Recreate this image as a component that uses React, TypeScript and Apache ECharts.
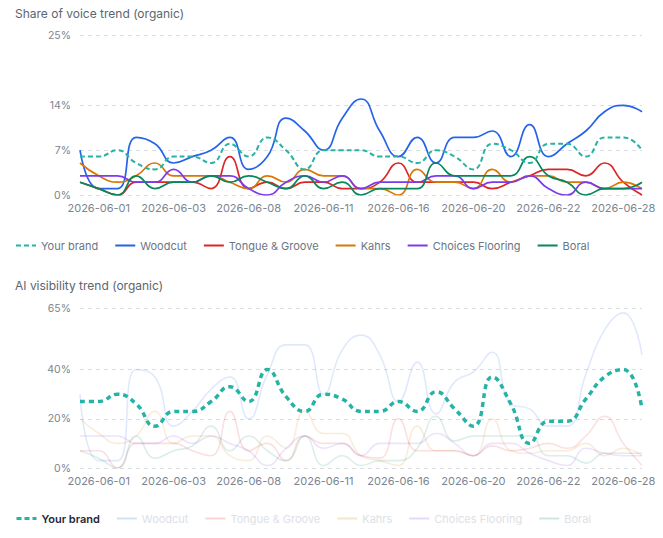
import React, { useEffect, useRef } from "react";
import * as echarts from "echarts";

// Collection runs (timestamps); the axis shows the date part only.
const runDates = [
  "2026-05-31 18:00", "2026-06-01 09:00", "2026-06-01 18:00", "2026-06-02 09:00",
  "2026-06-02 18:00", "2026-06-03 09:00", "2026-06-04 09:00", "2026-06-05 09:00",
  "2026-06-07 09:00", "2026-06-08 09:00", "2026-06-09 09:00", "2026-06-10 09:00",
  "2026-06-10 18:00", "2026-06-11 09:00", "2026-06-12 09:00", "2026-06-14 09:00",
  "2026-06-15 09:00", "2026-06-16 09:00", "2026-06-17 09:00", "2026-06-18 09:00",
  "2026-06-19 09:00", "2026-06-20 09:00", "2026-06-20 18:00", "2026-06-21 09:00",
  "2026-06-21 18:00", "2026-06-22 09:00", "2026-06-24 09:00", "2026-06-25 09:00",
  "2026-06-27 09:00", "2026-06-28 09:00", "2026-06-29 09:00",
];

const brandNames = ["Your brand", "Woodcut", "Tongue & Groove", "Kahrs", "Choices Flooring", "Boral"];
const brandColors = ["#26b3a6", "#2563eb", "#dc2626", "#d97706", "#7c3aed", "#07875a"];

// Share of voice (%)
const sovYourBrand = [6, 6, 7, 5, 4, 6, 6, 5, 8, 6, 9, 7, 4, 7, 7, 7, 6, 6, 5, 7, 6, 4, 8, 7, 5, 8, 8, 6, 9, 9, 7];
const sovWoodcut = [7, 1, 1, 9, 8, 5, 6, 7, 9, 4, 6, 12, 10, 7, 12, 15, 10, 6, 9, 5, 9, 9, 10, 6, 11, 6, 8, 10, 13, 14, 13];
const sovTongueGroove = [2, 1, 0, 2, 2, 2, 2, 1, 6, 1, 2, 1, 2, 2, 1, 1, 2, 5, 2, 2, 2, 2, 1, 2, 3, 4, 4, 3, 5, 2, 0];
const sovKahrs = [5, 3, 2, 3, 5, 3, 3, 3, 2, 1, 3, 2, 4, 3, 3, 1, 1, 0, 4, 2, 2, 1, 4, 2, 3, 3, 2, 2, 1, 2, 1];
const sovChoices = [3, 3, 3, 2, 2, 4, 2, 3, 3, 1, 0, 2, 3, 2, 3, 1, 2, 2, 2, 3, 3, 1, 2, 2, 3, 1, 0, 2, 1, 1, 1];
const sovBoral = [2, 1, 0, 3, 1, 2, 2, 3, 2, 3, 2, 1, 3, 1, 2, 0, 1, 1, 1, 5, 3, 3, 3, 3, 6, 3, 2, 0, 1, 1, 2];

// AI visibility (%)
const aiYourBrand = [27, 27, 30, 26, 17, 23, 23, 27, 33, 27, 40, 29, 23, 30, 28, 23, 23, 27, 23, 31, 24, 17, 37, 26, 10, 19, 19, 28, 37, 40, 24];
const aiWoodcut = [30, 3, 3, 40, 37, 17, 23, 32, 37, 20, 38, 50, 50, 30, 48, 54, 46, 27, 43, 22, 35, 39, 47, 26, 24, 17, 17, 38, 56, 63, 46];
const aiTongueGroove = [7, 7, 0, 10, 10, 10, 7, 5, 23, 7, 10, 3, 13, 10, 10, 5, 4, 20, 7, 7, 7, 5, 9, 7, 8, 10, 8, 13, 21, 10, 1];
const aiKahrs = [20, 14, 10, 13, 23, 10, 13, 13, 5, 3, 13, 8, 23, 14, 14, 5, 3, 1, 17, 7, 7, 5, 20, 7, 6, 7, 7, 10, 5, 8, 5];
const aiChoices = [13, 13, 13, 10, 10, 13, 10, 13, 10, 7, 1, 8, 13, 8, 10, 5, 10, 10, 10, 14, 10, 5, 10, 10, 6, 3, 1, 8, 6, 5, 5];
const aiBoral = [7, 4, 0, 13, 4, 7, 9, 17, 7, 13, 7, 3, 13, 1, 5, 1, 3, 3, 8, 21, 11, 13, 13, 13, 13, 5, 5, 2, 6, 6, 6];

const sovTicks = [0, 7, 14, 25];
const aiTicks = [0, 20, 40, 65];

const sovSeries = [sovYourBrand, sovWoodcut, sovTongueGroove, sovKahrs, sovChoices, sovBoral];
const aiSeries = [aiYourBrand, aiWoodcut, aiTongueGroove, aiKahrs, aiChoices, aiBoral];

const FONT = "Inter, 'Noto Sans', sans-serif";
const LABEL_GRAY = "#7b8591";
const GRID_LINE = "#d9dee4";

function xAxisFor(gridIndex: number) {
  return {
    type: "category",
    gridIndex,
    data: runDates,
    boundaryGap: false,
    axisLine: { show: false },
    axisTick: { show: false },
    splitLine: { show: false },
    axisLabel: {
      interval: (idx: number) => idx % 4 === 1,
      formatter: (v: string) => v.slice(0, 10),
      color: LABEL_GRAY,
      fontSize: 11,
      fontFamily: FONT,
      margin: 7,
    },
  };
}

function yAxisFor(gridIndex: number, max: number, ticks: number[]) {
  return {
    type: "value",
    gridIndex,
    min: 0,
    max,
    axisLine: { show: false },
    axisTick: { show: false, customValues: ticks },
    axisLabel: {
      customValues: ticks,
      formatter: "{value}%",
      color: LABEL_GRAY,
      fontSize: 10.5,
      fontFamily: FONT,
      margin: 9,
    },
    splitLine: { show: true, lineStyle: { color: GRID_LINE, type: [4, 4], width: 1 } },
  };
}

export default function App() {
  const ref = useRef<HTMLDivElement>(null);

  useEffect(() => {
    if (!ref.current) return;
    const chart = echarts.init(ref.current, null, { renderer: "svg" });

    const series: any[] = [];
    brandNames.forEach((name, i) => {
      const isBrand = i === 0;
      series.push({
        name,
        type: "line",
        xAxisIndex: 0,
        yAxisIndex: 0,
        data: sovSeries[i],
        smooth: true,
        symbol: "none",
        z: isBrand ? 3 : 2,
        lineStyle: {
          color: brandColors[i],
          width: isBrand ? 2 : 1.7,
          type: isBrand ? [5, 3] : "solid",
        },
        itemStyle: { color: brandColors[i] },
      });
    });
    brandNames.forEach((name, i) => {
      const isBrand = i === 0;
      series.push({
        name,
        type: "line",
        xAxisIndex: 1,
        yAxisIndex: 1,
        data: aiSeries[i],
        smooth: true,
        symbol: "none",
        z: isBrand ? 3 : 2,
        lineStyle: {
          color: brandColors[i],
          width: isBrand ? 3.5 : 1.6,
          type: isBrand ? [5, 4] : "solid",
          opacity: isBrand ? 1 : 0.14,
        },
        itemStyle: { color: brandColors[i] },
      });
    });

    const legendBase = {
      left: 15,
      padding: 0,
      itemWidth: 20,
      itemHeight: 12,
      itemGap: 16,
      selectedMode: false,
      textStyle: { color: "#6b7683", fontSize: 11, fontFamily: FONT },
    };
    // legend keys are plain line samples, without a marker in the middle
    const noMarker = { opacity: 0, borderWidth: 0 };
    const titleText = { color: "#5b6570", fontSize: 12, fontWeight: "normal", fontFamily: FONT };

    chart.setOption({
      animation: false,
      textStyle: { fontFamily: FONT },
      title: [
        { text: "Share of voice trend (organic)", left: 15, top: 7, padding: 0, textStyle: titleText },
        { text: "AI visibility trend (organic)", left: 15, top: 279, padding: 0, textStyle: titleText },
      ],
      legend: [
        {
          ...legendBase,
          top: 240,
          data: brandNames.map((name, i) => ({
            name,
            itemStyle: noMarker,
            lineStyle: { width: 2, color: brandColors[i], opacity: 1 },
          })),
        },
        {
          ...legendBase,
          top: 513,
          data: brandNames.map((name, i) =>
            i === 0
              ? {
                  name,
                  itemStyle: noMarker,
                  lineStyle: { width: 3, color: brandColors[i], opacity: 1 },
                  textStyle: { color: "#1f2937", fontWeight: 600, fontSize: 11, fontFamily: FONT },
                }
              : {
                  name,
                  itemStyle: noMarker,
                  lineStyle: { width: 2, color: brandColors[i], opacity: 0.2 },
                  textStyle: { color: "#dde1e6", fontSize: 11, fontFamily: FONT },
                }
          ),
        },
      ],
      grid: [
        { left: 80, right: 21, top: 35, height: 160 },
        { left: 80, right: 21, top: 308, height: 160 },
      ],
      xAxis: [xAxisFor(0), xAxisFor(1)],
      yAxis: [yAxisFor(0, 25, sovTicks), yAxisFor(1, 65, aiTicks)],
      series,
    });

    return () => chart.dispose();
  }, []);

  return (
    <div
      ref={ref}
      style={{ position: "fixed", left: 0, top: 0, width: 663, height: 538, background: "#fff" }}
    />
  );
}
